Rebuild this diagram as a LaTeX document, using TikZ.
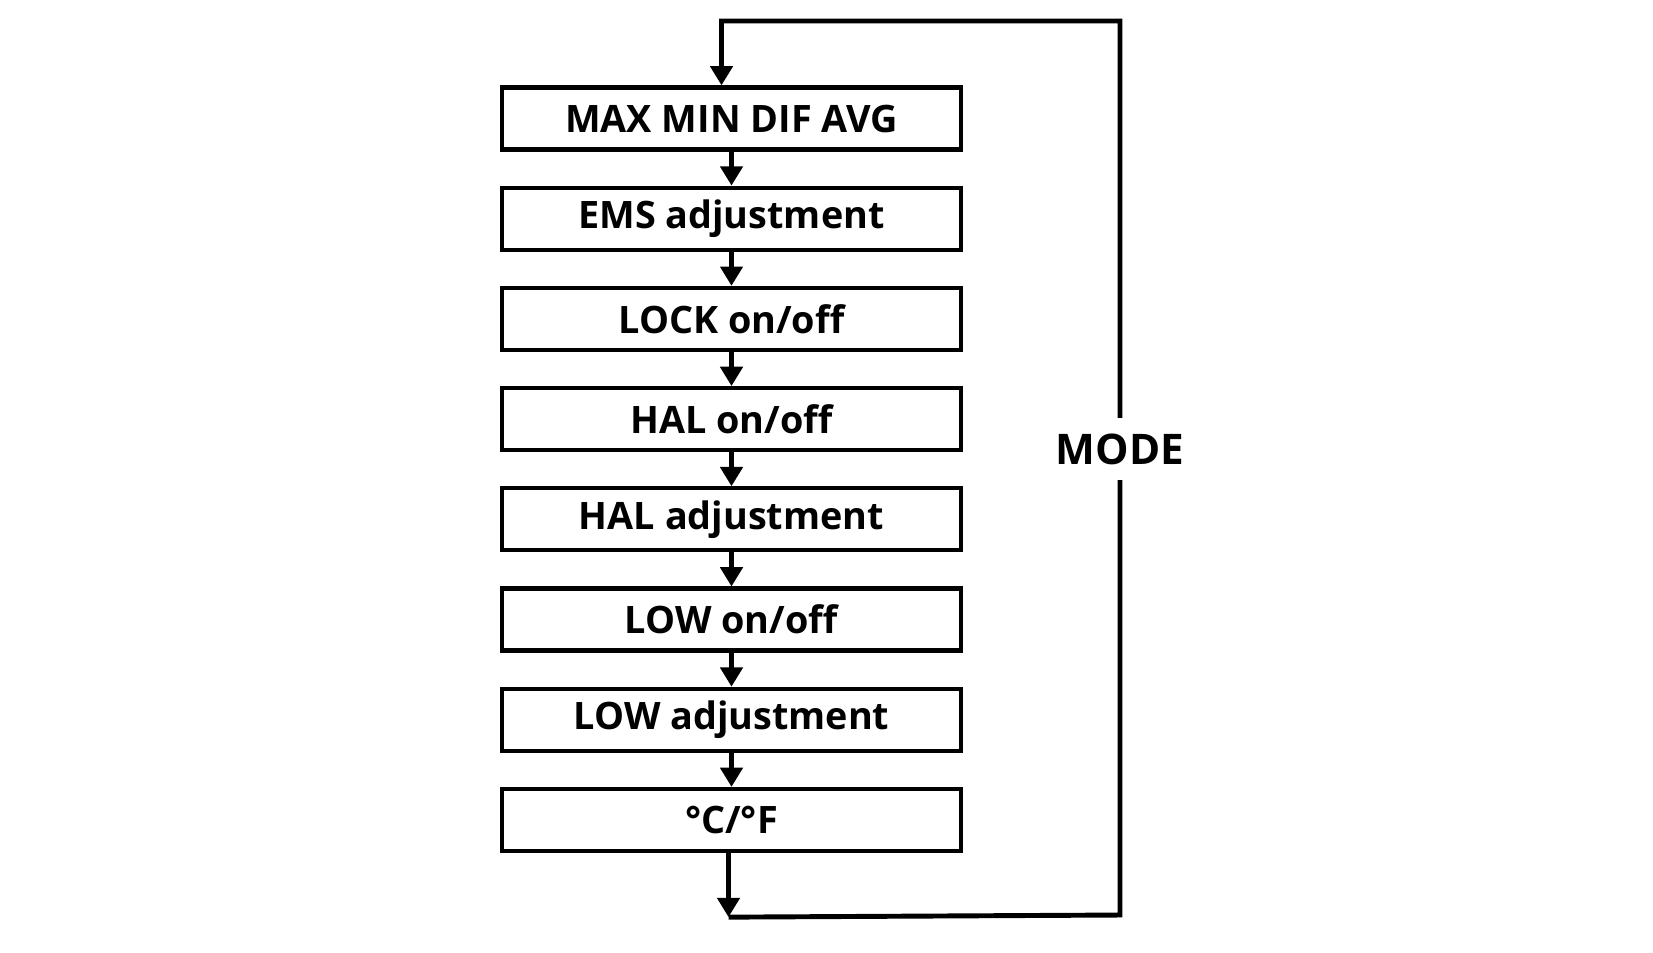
\documentclass[tikz,border=0pt]{standalone}
\usepackage{fontspec}
\setmainfont{Open Sans}
\usetikzlibrary{arrows.meta, positioning, calc}

\begin{document}
\begin{tikzpicture}[>={Triangle[length=11pt, width=12.5pt]}, node distance=0.68cm,
    stage/.style={draw, line width=2.4pt, minimum width=9.18cm, minimum height=1.24cm,
                  font=\fontsize{21.5}{24}\selectfont\bfseries},
    link/.style={->, line width=2.8pt}]
  \useasboundingbox (0,0) rectangle (33.06,-19.04);

  % Menu stages (vertical)
  \node[stage] (maxmin) at (14.63,-2.37) {MAX MIN DIF AVG};
  \node[stage, below=of maxmin] (ems) {EMS adjustment};
  \node[stage, below=of ems] (lock) {LOCK on/off};
  \node[stage, below=of lock] (halon) {HAL on/off};
  \node[stage, below=of halon] (haladj) {HAL adjustment};
  \node[stage, below=of haladj] (lowon) {LOW on/off};
  \node[stage, below=of lowon] (lowadj) {LOW adjustment};
  \node[stage, below=of lowadj] (unit) {°C/°F};

  % Steps between stages
  \draw[link] (maxmin) -- (ems);
  \draw[link] (ems) -- (lock);
  \draw[link] (lock) -- (halon);
  \draw[link] (halon) -- (haladj);
  \draw[link] (haladj) -- (lowon);
  \draw[link] (lowon) -- (lowadj);
  \draw[link] (lowadj) -- (unit);

  % MODE loop back to the top
  \coordinate (loopbot) at ($(unit.south)+(-0.06,-1.28)$);
  \coordinate (loopin) at ($(maxmin.north)+(-0.2,0)$);
  \draw[link] (unit.south -| loopbot) -- (loopbot);
  \draw[link, line join=miter] (loopbot) -- (22.4,-18.3) -- (22.4,-0.42)
    -| (loopin);
  \node[fill=white, inner sep=0pt, minimum height=1.24cm,
        font=\fontsize{24}{28}\selectfont\bfseries] (mode) at (22.4,-8.98) {MODE};
\end{tikzpicture}
\end{document}
